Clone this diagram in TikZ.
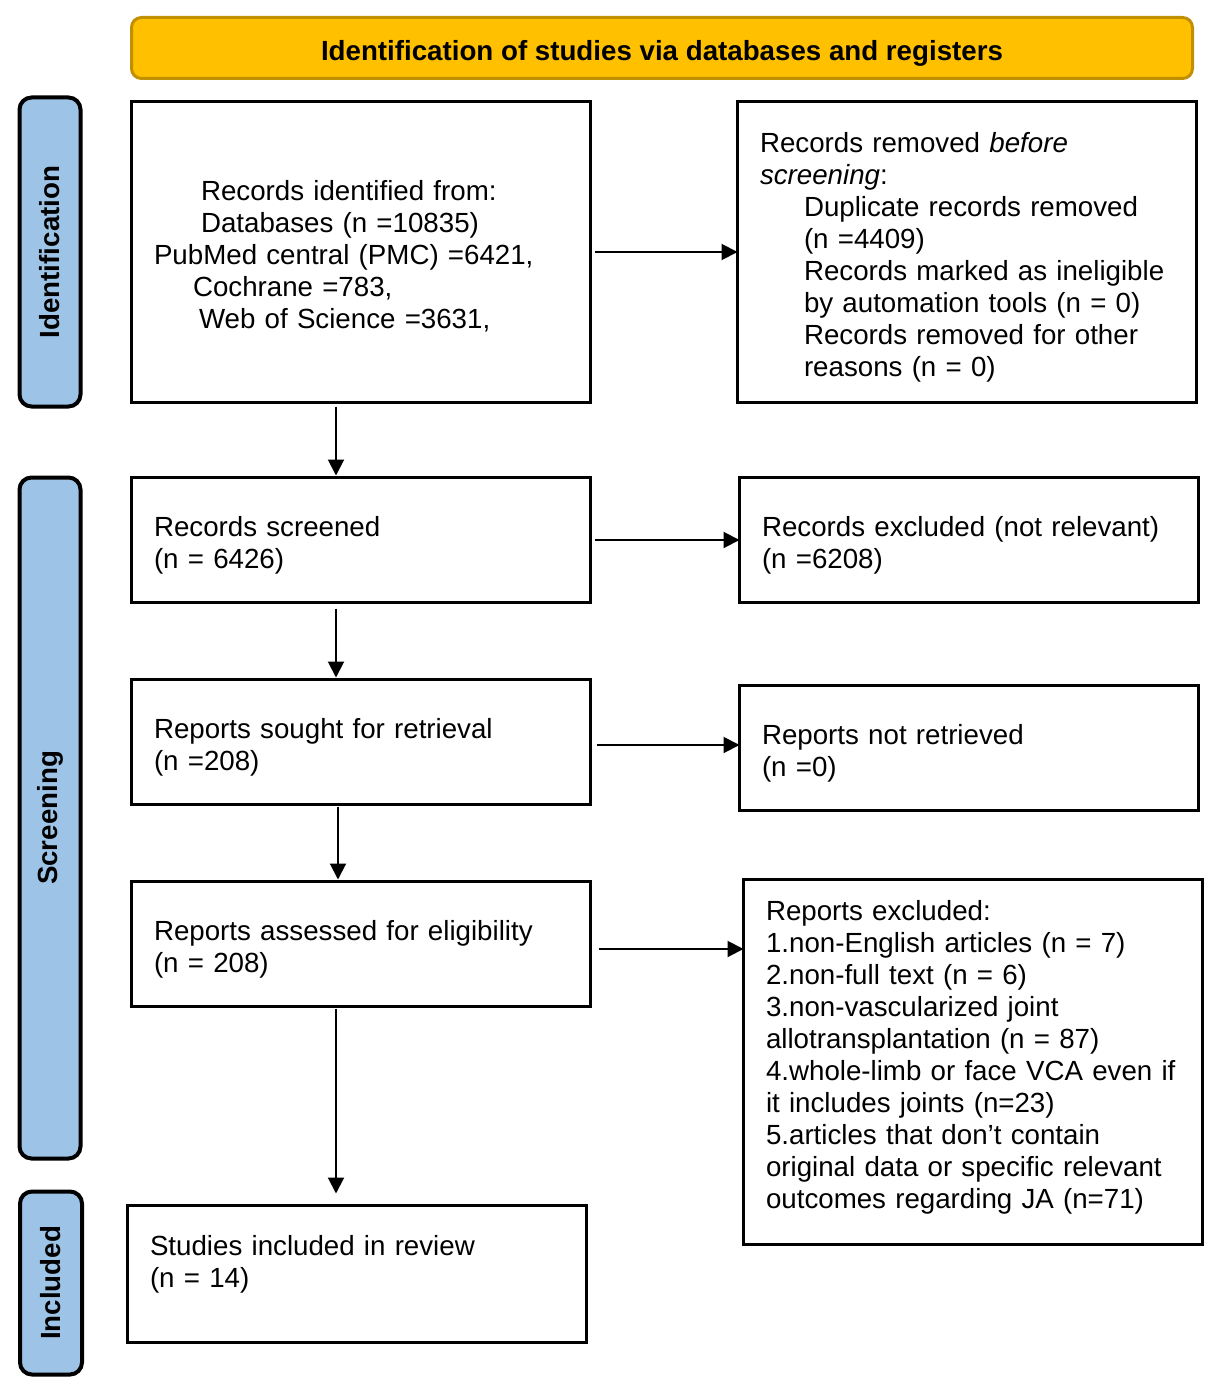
\documentclass[tikz,border=0pt]{standalone}
\usepackage{fontspec}
\setmainfont{Liberation Sans}
\usetikzlibrary{arrows.meta,calc}
\definecolor{hdrfill}{HTML}{FFC000}
\definecolor{hdrline}{HTML}{C09000}
\definecolor{sidefill}{HTML}{9DC3E6}
\newcommand\tallstrut{\rule{0pt}{34pt}}
\begin{document}
\begin{tikzpicture}[x=1pt,y=-1pt,
  every node/.style={font=\fontsize{27.7}{32}\selectfont},
  box/.style={draw=black, line width=3.5pt, rectangle, inner xsep=22.5pt, inner ysep=0pt,
    align=left, outer sep=0pt, minimum width=459pt, text width=414pt},
  sidebar/.style={draw=black, line width=4pt, fill=sidefill, rounded corners=12pt, rotate=90,
    inner sep=0pt, font=\fontsize{27.7}{32}\selectfont\bfseries},
  hdr/.style={draw=hdrline, line width=3pt, fill=hdrfill, rounded corners=10pt, inner sep=0pt,
    minimum width=1061pt, minimum height=61pt, text height=30pt, text depth=5pt,
    font=\fontsize{27.7}{32}\selectfont\bfseries},
  conn/.style={line width=2pt, -{Triangle[length=16pt,width=16pt]}}
]
\useasboundingbox (0,0) rectangle (1214,1388);

% header
\node[hdr] (hdr) at (662,48) {Identification of studies via databases and registers};

% side bars
\node[sidebar, minimum width=309pt, minimum height=61pt] (sid) at (50,252) {Identification};
\node[sidebar, minimum width=681pt, minimum height=61pt] (sscr) at (50,818) {Screening};
\node[sidebar, minimum width=183pt, minimum height=62pt] (sinc) at (51,1283) {Included};

% boxes
\node[box, minimum height=301pt] (b1) at (361,252) {%
\tallstrut\hspace*{47pt}Records identified from:\\
\hspace*{47pt}Databases (n =10835)\\
PubMed central (PMC) =6421,\\
\hspace*{39pt}Cochrane =783,\\
\hspace*{45pt}Web of Science =3631,\strut};

\node[box, minimum height=301pt] (b2) at (967,252) {%
\tallstrut Records removed \emph{before}\\
\emph{screening}:\\
\hspace*{44pt}Duplicate records removed\\
\hspace*{44pt}(n =4409)\\
\hspace*{44pt}Records marked as ineligible\\
\hspace*{44pt}by automation tools (n = 0)\\
\hspace*{44pt}Records removed for other\\
\hspace*{44pt}reasons (n = 0)\strut};

\node[box, minimum height=125pt] (b3) at (361,540) {\tallstrut Records screened\\(n = 6426)\strut};
\node[box, minimum height=125pt] (b4) at (969,540) {\tallstrut Records excluded (not relevant)\\(n =6208)\strut};
\node[box, minimum height=125pt] (b5) at (361,742) {\tallstrut Reports sought for retrieval\\(n =208)\strut};
\node[box, minimum height=125pt] (b6) at (969,748) {\tallstrut Reports not retrieved\\(n =0)\strut};
\node[box, minimum height=125pt] (b7) at (361,944) {\tallstrut Reports assessed for eligibility\\(n = 208)\strut};

\node[box, minimum height=365pt] (b8) at (973,1062) {%
\strut Reports excluded:\\
1.non-English articles (n = 7)\\
2.non-full text (n = 6)\\
3.non-vascularized joint\\
allotransplantation (n = 87)\\
4.whole-limb or face VCA even if\\
it includes joints (n=23)\\
5.articles that don’t contain\\
original data or specific relevant\\
outcomes regarding JA (n=71)\strut\\[-14pt]\mbox{}};

\node[box, minimum height=137pt] (b9) at (357,1274) {\strut Studies included in review\\(n = 14)\strut\\[-4pt]\mbox{}};

% connectors
\coordinate (colx) at (336,0);
\draw[conn, shorten <=4pt] (b1.east) -- (b2.west);
\draw[conn, shorten <=4pt] (b3.east) -- (b4.west |- b3.east);
\draw[conn, shorten <=6pt] ([yshift=-3pt]b5.east) -- ([yshift=-3pt]b5.east -| b6.west);
\draw[conn, shorten <=8pt] ([yshift=-5pt]b7.east) -- ([yshift=-5pt]b7.east -| b8.west);

\draw[conn, shorten <=4pt, shorten >=2pt] (b1.south -| colx) -- (b3.north -| colx);
\draw[conn, shorten <=6pt, shorten >=2pt] (b3.south -| colx) -- (b5.north -| colx);
\draw[conn, shorten <=2pt, shorten >=2pt] ([xshift=2pt]b5.south -| colx) -- ([xshift=2pt]b7.north -| colx);
\draw[conn, shorten <=2pt, shorten >=12pt] (b7.south -| colx) -- (b9.north -| colx);
\end{tikzpicture}
\end{document}
